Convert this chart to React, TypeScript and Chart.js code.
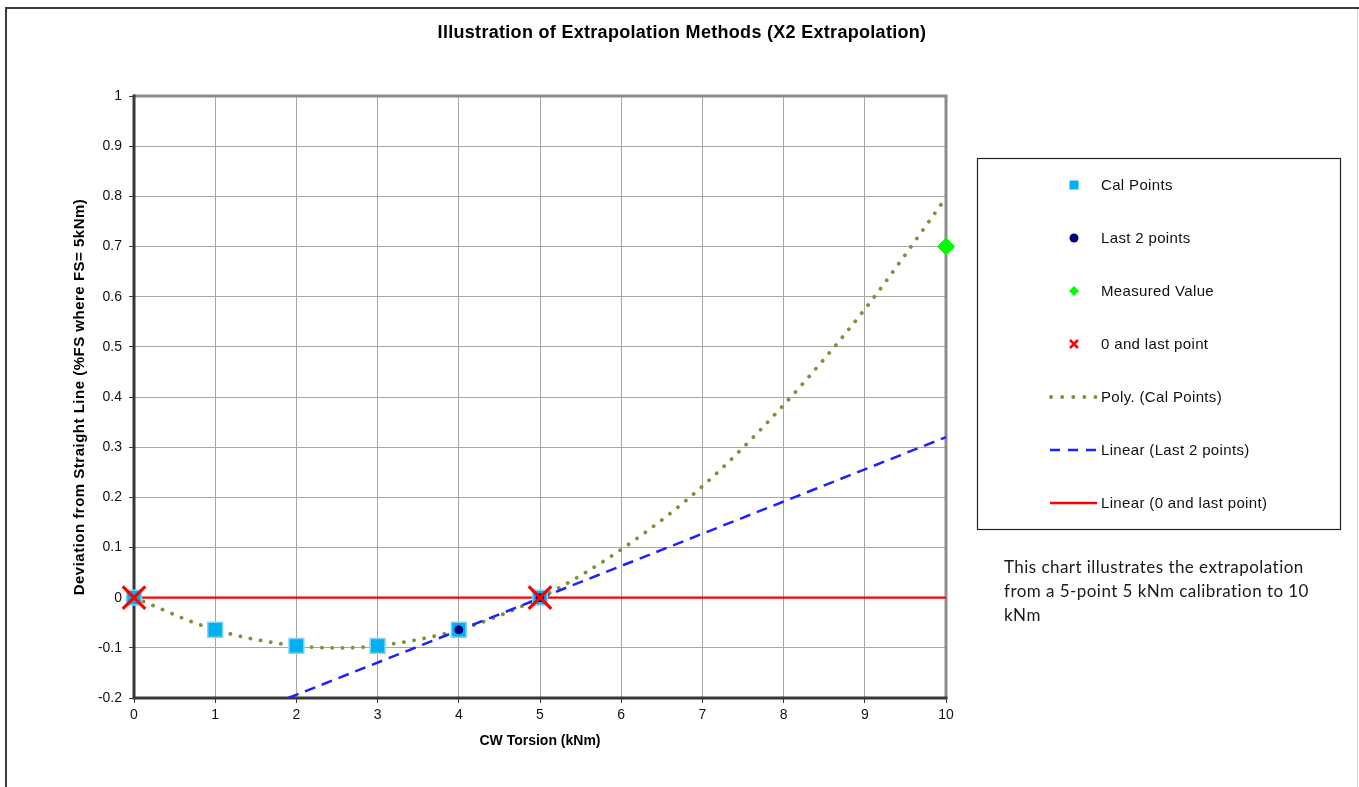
import React, { useEffect, useRef } from "react";
import { Chart, registerables } from "chart.js";

Chart.register(...registerables);

const W = 1359;
const H = 787;

// ---- text ----
const titleText = "Illustration of Extrapolation Methods (X2 Extrapolation)";
const xAxisTitle = "CW Torsion (kNm)";
const yAxisTitle = "Deviation from Straight Line (%FS where FS= 5kNm)";
const noteLines = [
  "This chart illustrates the extrapolation",
  "from a 5-point 5 kNm calibration to 10",
  "kNm",
];

// ---- axes ----
const xMin = 0;
const xMax = 10;
const xStep = 1;
const yMin = -0.2;
const yMax = 1;
const yStep = 0.1;

// ---- series ----
const calX = [0, 1, 2, 3, 4, 5];
const calY = [0, -0.064, -0.096, -0.096, -0.064, 0];

const last2X = [4, 5];
const last2Y = [-0.064, 0];

const measuredX = [10];
const measuredY = [0.7];

const zeroLastX = [0, 5];
const zeroLastY = [0, 0];

const polyX = [0, 1, 2, 2.5, 3, 4, 5, 6, 7, 8, 9, 10];
const polyY = [0, -0.064, -0.096, -0.1, -0.096, -0.064, 0, 0.096, 0.222, 0.384, 0.575, 0.797];

const linLast2X = [1.9, 10];
const linLast2Y = [-0.2, 0.32];

const linZeroX = [0, 10];
const linZeroY = [0, 0];

const legendLabels = [
  "Cal Points",
  "Last 2 points",
  "Measured Value",
  "0 and last point",
  "Poly. (Cal Points)",
  "Linear (Last 2 points)",
  "Linear (0 and last point)",
];

const C_CAL = "#00b0f0";
const C_LAST2 = "#000080";
const C_MEAS = "#00ff00";
const C_X = "#ff0000";
const C_POLY = "#77933c";
const C_LIN2 = "#1f1fff";
const C_LIN0 = "#ff0000";

const toPts = (xs: number[], ys: number[]) => xs.map((x, i) => ({ x, y: ys[i] }));

const decoPlugin = {
  id: "deco",
  beforeDraw(chart: any) {
    const ctx = chart.ctx;
    ctx.save();
    ctx.fillStyle = "#ffffff";
    ctx.fillRect(0, 0, W, H);
    ctx.strokeStyle = "#3a3a3a";
    ctx.lineWidth = 2;
    ctx.beginPath();
    ctx.moveTo(6, H);
    ctx.lineTo(6, 8);
    ctx.lineTo(W, 8);
    ctx.stroke();
    ctx.strokeStyle = "#d4d4d4";
    ctx.lineWidth = 1;
    ctx.beginPath();
    ctx.moveTo(W - 1.5, 9);
    ctx.lineTo(W - 1.5, H);
    ctx.stroke();
    ctx.restore();
  },
  beforeDatasetsDraw(chart: any) {
    const { ctx, chartArea: a } = chart;
    ctx.save();
    ctx.lineWidth = 3;
    ctx.strokeStyle = "#8c8c8c";
    ctx.beginPath();
    ctx.moveTo(a.left, a.top);
    ctx.lineTo(a.right, a.top);
    ctx.lineTo(a.right, a.bottom);
    ctx.stroke();
    ctx.strokeStyle = "#383838";
    ctx.beginPath();
    ctx.moveTo(a.left, a.top - 1.5);
    ctx.lineTo(a.left, a.bottom);
    ctx.lineTo(a.right + 1.5, a.bottom);
    ctx.stroke();
    ctx.restore();
  },
  afterDraw(chart: any) {
    const { ctx, chartArea: a } = chart;
    ctx.save();
    ctx.fillStyle = "#000000";
    // title
    ctx.font = "bold 18px 'Liberation Sans', Arial, sans-serif";
    (ctx as any).letterSpacing = "0.3px";
    ctx.textAlign = "center";
    ctx.textBaseline = "middle";
    ctx.fillText(titleText, 682, 33);
    // x title
    ctx.font = "bold 14px 'Liberation Sans', Arial, sans-serif";
    (ctx as any).letterSpacing = "0px";
    ctx.fillText(xAxisTitle, (a.left + a.right) / 2, 741);
    // y title
    ctx.save();
    ctx.translate(80, (a.top + a.bottom) / 2);
    ctx.rotate(-Math.PI / 2);
    ctx.font = "bold 15px 'Liberation Sans', Arial, sans-serif";
    (ctx as any).letterSpacing = "0.5px";
    ctx.fillText(yAxisTitle, 0, 0);
    ctx.restore();

    // legend box
    ctx.strokeStyle = "#222222";
    ctx.lineWidth = 1.2;
    ctx.strokeRect(977.5, 158.5, 363, 371);
    const rows = [185, 238, 291, 344, 397, 450, 503];
    const mx = 1074;
    // Cal points
    ctx.fillStyle = C_CAL;
    ctx.fillRect(mx - 4.5, rows[0] - 4.5, 9, 9);
    // Last 2 points
    ctx.fillStyle = C_LAST2;
    ctx.beginPath();
    ctx.arc(mx, rows[1], 4.5, 0, Math.PI * 2);
    ctx.fill();
    // Measured
    ctx.fillStyle = C_MEAS;
    ctx.beginPath();
    ctx.moveTo(mx - 5, rows[2]);
    ctx.lineTo(mx, rows[2] - 5);
    ctx.lineTo(mx + 5, rows[2]);
    ctx.lineTo(mx, rows[2] + 5);
    ctx.closePath();
    ctx.fill();
    // X
    ctx.strokeStyle = C_X;
    ctx.lineWidth = 2.5;
    ctx.beginPath();
    ctx.moveTo(mx - 4, rows[3] - 4);
    ctx.lineTo(mx + 4, rows[3] + 4);
    ctx.moveTo(mx + 4, rows[3] - 4);
    ctx.lineTo(mx - 4, rows[3] + 4);
    ctx.stroke();
    // Poly
    ctx.strokeStyle = C_POLY;
    ctx.lineWidth = 3.8;
    ctx.lineCap = "round";
    ctx.setLineDash([0.1, 11]);
    ctx.beginPath();
    ctx.moveTo(1051, rows[4]);
    ctx.lineTo(1097, rows[4]);
    ctx.stroke();
    // Linear last 2
    ctx.lineCap = "butt";
    ctx.strokeStyle = C_LIN2;
    ctx.lineWidth = 2.5;
    ctx.setLineDash([10, 8]);
    ctx.beginPath();
    ctx.moveTo(1050, rows[5]);
    ctx.lineTo(1097, rows[5]);
    ctx.stroke();
    // Linear 0
    ctx.setLineDash([]);
    ctx.strokeStyle = C_LIN0;
    ctx.lineWidth = 2.5;
    ctx.beginPath();
    ctx.moveTo(1050, rows[6]);
    ctx.lineTo(1097, rows[6]);
    ctx.stroke();

    ctx.fillStyle = "#111111";
    ctx.font = "15px 'Liberation Sans', Arial, sans-serif";
    (ctx as any).letterSpacing = "0.35px";
    ctx.textAlign = "left";
    ctx.textBaseline = "middle";
    legendLabels.forEach((t, i) => ctx.fillText(t, 1101, rows[i] + 1));

    // note
    ctx.fillStyle = "#1a1a1a";
    ctx.font = "17px Lato, 'Open Sans', sans-serif";
    (ctx as any).letterSpacing = "0.45px";
    noteLines.forEach((t, i) => ctx.fillText(t, 1004, 568 + i * 24));
    ctx.restore();
  },
};

export default function App() {
  const ref = useRef<HTMLCanvasElement | null>(null);

  useEffect(() => {
    if (!ref.current) return;
    const chart = new Chart(ref.current, {
      type: "scatter",
      data: {
        datasets: [
          {
            label: "0 and last point",
            data: toPts(zeroLastX, zeroLastY),
            showLine: false,
            clip: false,
            pointStyle: "crossRot",
            pointRadius: 16,
            pointBorderColor: C_X,
            pointBackgroundColor: C_X,
            pointBorderWidth: 3.2,
            order: 0,
          },
          {
            label: "Last 2 points",
            data: toPts(last2X, last2Y),
            showLine: false,
            clip: false,
            pointStyle: "circle",
            pointRadius: 4,
            pointBackgroundColor: C_LAST2,
            pointBorderColor: C_LAST2,
            pointBorderWidth: 1,
            order: 1,
          },
          {
            label: "Measured Value",
            data: toPts(measuredX, measuredY),
            showLine: false,
            clip: false,
            pointStyle: "rectRot",
            pointRadius: 8.5,
            pointBackgroundColor: C_MEAS,
            pointBorderColor: C_MEAS,
            pointBorderWidth: 1,
            order: 2,
          },
          {
            label: "Cal Points",
            data: toPts(calX, calY),
            showLine: false,
            clip: false,
            pointStyle: "rect",
            pointRadius: 10.5,
            pointBackgroundColor: C_CAL,
            pointBorderColor: "#7fd6f6",
            pointBorderWidth: 1.5,
            order: 3,
          },
          {
            label: "Linear (Last 2 points)",
            data: toPts(linLast2X, linLast2Y),
            showLine: true,
            pointRadius: 0,
            borderColor: C_LIN2,
            borderWidth: 2.5,
            borderDash: [11, 7],
            order: 4,
          },
          {
            label: "Poly. (Cal Points)",
            data: toPts(polyX, polyY),
            showLine: true,
            pointRadius: 0,
            borderColor: C_POLY,
            borderWidth: 3.8,
            borderDash: [0.1, 10.2],
            borderCapStyle: "round",
            cubicInterpolationMode: "monotone",
            order: 5,
          },
          {
            label: "Linear (0 and last point)",
            data: toPts(linZeroX, linZeroY),
            showLine: true,
            pointRadius: 0,
            borderColor: C_LIN0,
            borderWidth: 2.2,
            order: 6,
          },
        ] as any,
      },
      options: {
        animation: false,
        responsive: false,
        devicePixelRatio: 1,
        events: [],
        layout: { padding: { top: 96, right: W - 946, bottom: 0, left: 0 } },
        plugins: {
          legend: { display: false },
          title: { display: false },
          tooltip: { enabled: false },
        },
        scales: {
          x: {
            type: "linear",
            min: xMin,
            max: xMax,
            border: { display: false },
            grid: {
              color: "#a6a6a6",
              lineWidth: 1,
              tickColor: "#383838",
              tickLength: 5,
              drawTicks: true,
            },
            ticks: {
              stepSize: xStep,
              color: "#111111",
              padding: 4,
              maxRotation: 0,
              font: { family: "'Liberation Sans', Arial, sans-serif", size: 14 },
              callback: (v: any) => String(Math.round(Number(v))),
            },
            afterFit: (s: any) => {
              s.height = H - 698;
            },
          },
          y: {
            type: "linear",
            min: yMin,
            max: yMax,
            border: { display: false },
            grid: {
              color: "#a6a6a6",
              lineWidth: 1,
              tickColor: "#383838",
              tickLength: 5,
              drawTicks: true,
            },
            ticks: {
              stepSize: yStep,
              color: "#111111",
              padding: 7,
              font: { family: "'Liberation Sans', Arial, sans-serif", size: 14 },
              callback: (v: any) => String(parseFloat(Number(v).toFixed(1))),
            },
            afterFit: (s: any) => {
              s.width = 134;
            },
          },
        },
      } as any,
      plugins: [decoPlugin],
    });
    return () => chart.destroy();
  }, []);

  return (
    <div style={{ position: "absolute", left: 0, top: 0, width: W, height: H }}>
      <canvas ref={ref} width={W} height={H} style={{ display: "block" }} />
    </div>
  );
}
